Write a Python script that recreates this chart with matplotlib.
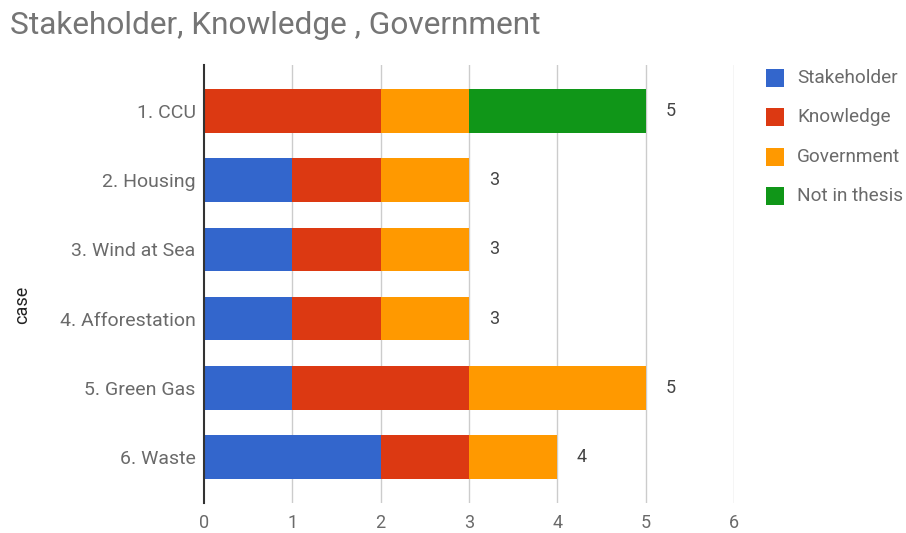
import matplotlib
matplotlib.use("Agg")
import matplotlib.pyplot as plt
from matplotlib.patches import Rectangle
import numpy as np

plt.rcParams['font.family'] = ['Roboto', 'DejaVu Sans']

categories = ["1. CCU", "2. Housing", "3. Wind at Sea", "4. Afforestation", "5. Green Gas", "6. Waste"]
series_names = ["Stakeholder", "Knowledge", "Government", "Not in thesis"]
stakeholder = [0, 1, 1, 1, 1, 2]
knowledge = [2, 1, 1, 1, 2, 1]
government = [1, 1, 1, 1, 2, 1]
not_in_thesis = [2, 0, 0, 0, 0, 0]
colors = ["#3366cc", "#dc3912", "#ff9900", "#109618"]
x_ticks = [0, 1, 2, 3, 4, 5, 6]

W, H = 906, 533
fig = plt.figure(figsize=(W / 100, H / 100), dpi=100)
ax = fig.add_axes([204 / W, 1 - 503 / H, (734 - 204) / W, (503 - 65) / H])

y = np.arange(len(categories))
left = np.zeros(len(categories))
for vals, name, c in zip([stakeholder, knowledge, government, not_in_thesis], series_names, colors):
    vals = np.array(vals, dtype=float)
    ax.barh(y, vals, left=left, height=0.63, color=c, label=name, zorder=3)
    left = left + vals

totals = left
for yi, t in zip(y, totals):
    ax.text(t + 0.28, yi, f"{int(t)}", va="center", ha="center", fontsize=13, color="#444444", zorder=4)

ax.set_xlim(0, 6)
ax.set_ylim(5 + (503 - 457) / 69, -(110 - 64) / 69)
ax.set_yticks(y)
ax.set_yticklabels(categories)
ax.set_xticks(x_ticks)
ax.set_xticklabels([str(v) for v in x_ticks])
ax.tick_params(axis="both", length=0, labelcolor="#6a6a6a")
ax.tick_params(axis="y", pad=6, labelsize=14)
ax.tick_params(axis="x", pad=8, labelsize=13)

for xv in x_ticks[1:]:
    ax.axvline(xv, color="#cccccc", lw=1, zorder=1)
for s in ["top", "right", "bottom"]:
    ax.spines[s].set_visible(False)
ax.spines["left"].set_color("#333333")
ax.spines["left"].set_linewidth(1.5)
ax.spines["left"].set_zorder(5)

fig.text(22 / W, 1 - 305 / H, "case", fontsize=13, color="#222222", rotation=90,
         ha="center", va="center")

fig.text(10 / W, 1 - 26 / H, "Stakeholder, Knowledge , Government", fontsize=22.8,
         color="#757575", ha="left", va="center")

# legend
row_y = [78, 117, 157, 196]
for name, c, ry in zip(series_names, colors, row_y):
    fig.patches.append(Rectangle((766 / W, 1 - (ry + 9) / H), 18 / W, 18 / H,
                                 transform=fig.transFigure, facecolor=c, edgecolor="none"))
    fig.text(797 / W, 1 - ry / H, name, fontsize=13.7, color="#6a6a6a", ha="left", va="center")

fig.savefig("out.png", dpi=100)
